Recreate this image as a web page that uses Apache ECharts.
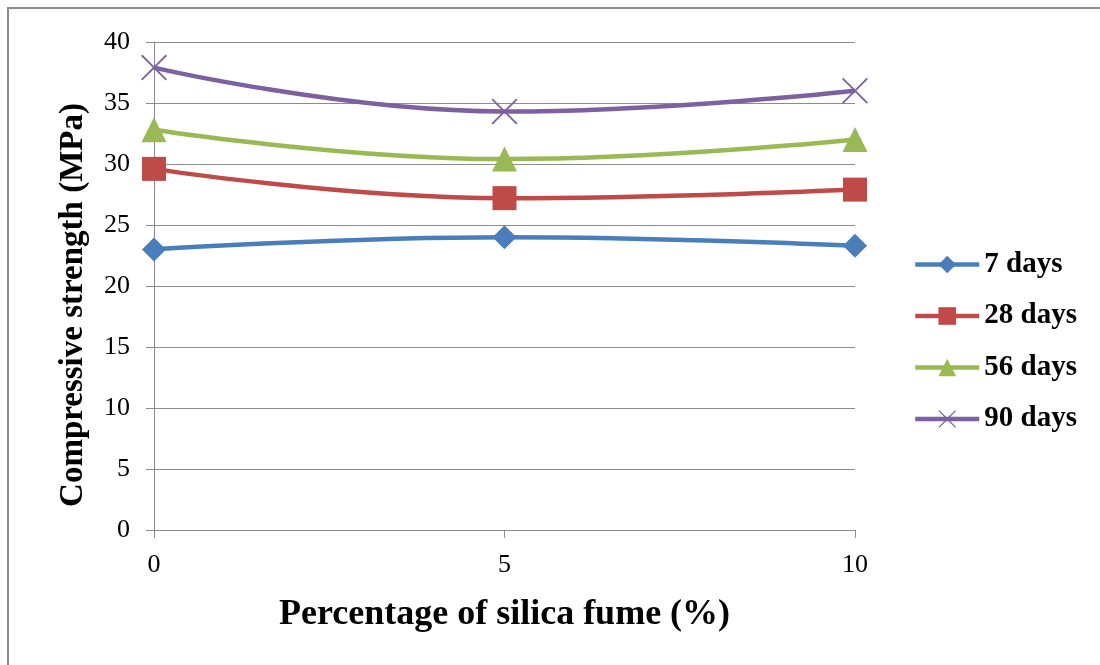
<!DOCTYPE html>
<html>
<head>
<meta charset="utf-8">
<script src="https://cdn.jsdelivr.net/npm/echarts@6/dist/echarts.min.js"></script>
<style>
  html, body { margin: 0; padding: 0; background: #fff; }
  #chart { width: 1100px; height: 665px; }
</style>
</head>
<body>
<div id="chart"></div>
<script>
// Silica fume content (%) on the x axis
const categories = ['0', '5', '10'];

// Compressive strength (MPa) at each curing age
const days7 = [23.0, 24.0, 23.3];
const days28 = [29.6, 27.2, 27.9];
const days56 = [32.8, 30.4, 32.0];
const days90 = [37.9, 34.3, 36.0];

const seriesNames = ['7 days', '28 days', '56 days', '90 days'];
const yTitle = 'Compressive strength (MPa)';
const xTitle = 'Percentage of silica fume (%)';

const serif = '"Liberation Serif", "Times New Roman", serif';
const gridGray = '#8c8c8c';

// thin "X" marker drawn as a filled outline
const crossPath = 'path://M0,1L1,0L10,9L19,0L20,1L11,10L20,19L19,20L10,11L1,20L0,19L9,10Z';

function lineSeries(name, data, color, symbol, size) {
  return {
    name: name,
    type: 'line',
    data: data,
    smooth: 0.45,
    symbol: symbol,
    symbolSize: size,
    showSymbol: true,
    color: color,
    lineStyle: { color: color, width: 4.5 },
    itemStyle: { color: color },
    z: 3
  };
}

const chart = echarts.init(document.getElementById('chart'));
chart.setOption({
  animation: false,
  backgroundColor: '#ffffff',
  graphic: [{
    type: 'rect',
    shape: { x: 8, y: 8, width: 1200, height: 700 },
    style: { fill: 'none', stroke: '#8a8a8a', lineWidth: 2 },
    silent: true,
    z: 0
  }, {
    // vertical axis title, set slightly below the plot's middle
    type: 'text',
    x: 73,
    y: 305,
    rotation: Math.PI / 2,
    style: {
      text: yTitle,
      fontFamily: serif,
      fontWeight: 'bold',
      fontSize: 33,
      fill: '#000',
      align: 'center',
      verticalAlign: 'middle'
    },
    silent: true
  }],
  grid: { left: 154, right: 245, top: 42, bottom: 135 },
  legend: {
    orient: 'vertical',
    left: 913,
    top: 250,
    padding: 0,
    itemWidth: 64,
    itemHeight: 22,
    itemGap: 22.5,
    data: seriesNames,
    lineStyle: { width: 4.5 },
    textStyle: { fontFamily: serif, fontWeight: 'bold', fontSize: 29, color: '#000' }
  },
  xAxis: {
    type: 'category',
    data: categories,
    boundaryGap: false,
    name: xTitle,
    nameLocation: 'middle',
    nameGap: 67,
    nameTextStyle: { fontFamily: serif, fontWeight: 'bold', fontSize: 36, color: '#000' },
    axisLine: { lineStyle: { color: gridGray, width: 1 } },
    axisTick: { show: true, alignWithLabel: true, length: 8, lineStyle: { color: gridGray } },
    axisLabel: { fontFamily: serif, fontSize: 26, color: '#000', margin: 22 },
    splitLine: { show: false }
  },
  yAxis: {
    type: 'value',
    min: 0,
    max: 40,
    interval: 5,
    axisLine: { show: true, lineStyle: { color: gridGray, width: 1 } },
    axisTick: { show: true, length: 8, lineStyle: { color: gridGray } },
    axisLabel: { fontFamily: serif, fontSize: 26, color: '#000', margin: 24 },
    splitLine: { show: true, lineStyle: { color: gridGray, width: 1.2 } }
  },
  series: [
    lineSeries(seriesNames[0], days7, '#4a7ebb', 'diamond', 24),
    lineSeries(seriesNames[1], days28, '#be4b48', 'rect', 24),
    lineSeries(seriesNames[2], days56, '#98b954', 'triangle', 25),
    lineSeries(seriesNames[3], days90, '#7d60a0', crossPath, 26)
  ]
});
</script>
</body>
</html>
